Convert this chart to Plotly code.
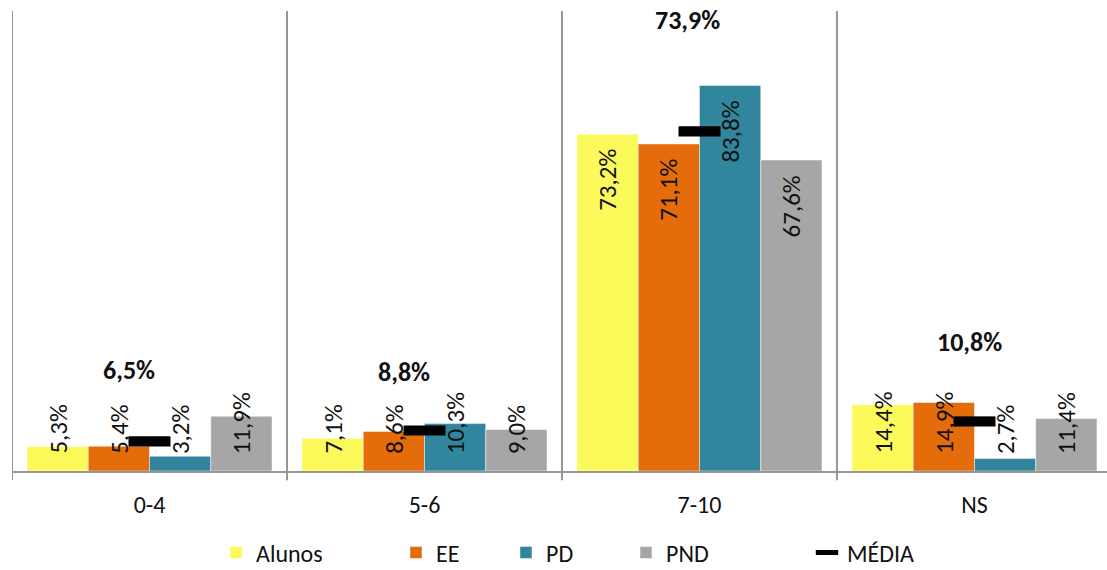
import plotly.graph_objects as go

categories = ["0-4", "5-6", "7-10", "NS"]
series_names = ["Alunos", "EE", "PD", "PND"]
alunos = [5.3, 7.1, 73.2, 14.4]
ee = [5.4, 8.6, 71.1, 14.9]
pd_vals = [3.2, 10.3, 83.8, 2.7]
pnd = [11.9, 9.0, 67.6, 11.4]
media = [6.5, 8.8, 73.9, 10.8]

colors = ["#FCF95B", "#E46C0A", "#31859C", "#A6A6A6"]
# pixel offsets of the bold MÉDIA labels relative to the marker
media_label_yshift = [71, 59, 111, 79]
media_label_xshift = [-20, -20, -12, -5]

FONT = "Calibri, Carlito, Lato, sans-serif"
BARGAP = 0.109

def fmt(v):
    return f"{v:.1f}".replace(".", ",") + "%"

fig = go.Figure()
all_series = [alunos, ee, pd_vals, pnd]
for i, (name, vals) in enumerate(zip(series_names, all_series)):
    fig.add_trace(go.Bar(
        x=categories, y=vals, name=name,
        marker=dict(color=colors[i], line=dict(color="rgba(255,255,255,0.6)", width=0.8)),
        legend="legend" if i == 0 else f"legend{i+1}",
        hoverinfo="skip",
    ))

fig.add_trace(go.Scatter(
    x=categories, y=media, name="MÉDIA", mode="markers",
    marker=dict(symbol="line-ew", size=29, line=dict(color="black", width=9)),
    legend="legend5", hoverinfo="skip",
))

annotations = []
bw = (1 - BARGAP) / 4
for i, vals in enumerate(all_series):
    for c, v in enumerate(vals):
        xpos = c - (1 - BARGAP) / 2 + (i + 0.5) * bw
        if v < 40:
            annotations.append(dict(x=xpos, y=0, xref="x", yref="y", text=fmt(v),
                                    textangle=-90, showarrow=False, yanchor="bottom",
                                    xanchor="center", yshift=15,
                                    font=dict(family=FONT, size=25, color="#111111")))
        else:
            annotations.append(dict(x=xpos, y=v, xref="x", yref="y", text=fmt(v),
                                    textangle=-90, showarrow=False, yanchor="top",
                                    xanchor="center", yshift=-13,
                                    font=dict(family=FONT, size=25, color="#111111")))

# MÉDIA markers drawn again on top of the value labels (as in the reference)
for c, v in enumerate(media):
    annotations.append(dict(x=c, y=v, xref="x", yref="y", text="\u00a0",
                            showarrow=False, xanchor="center", yanchor="middle",
                            width=41, height=9, bgcolor="black", borderpad=0,
                            font=dict(size=4, color="black")))

for c, v in enumerate(media):
    annotations.append(dict(x=c, y=v, xref="x", yref="y", text=f"<b>{fmt(v)}</b>",
                            showarrow=False, yanchor="middle", xanchor="center",
                            yshift=media_label_yshift[c], xshift=media_label_xshift[c],
                            font=dict(family=FONT, size=26, color="#111111")))

shapes = []
for xv in [-0.5, 0.5, 1.5, 2.5, 3.5]:
    shapes.append(dict(type="line", xref="x", yref="paper", x0=xv, x1=xv,
                       y0=-0.02, y1=1.0, line=dict(color="#959595", width=2)))

# legends positioned individually (pixel x of each legend's left edge)
legend_px = [230, 410, 520, 640, 821]
plot_left, plot_w = 12, 1095
common_leg = dict(orientation="h", yanchor="middle", y=-0.178, xanchor="left",
                  font=dict(family=FONT, size=24, color="#111111"),
                  bgcolor="rgba(0,0,0,0)", itemclick=False, itemdoubleclick=False)
legends = {}
for k, px in enumerate(legend_px):
    key = "legend" if k == 0 else f"legend{k+1}"
    legends[key] = dict(common_leg, x=(px - 14 - plot_left) / plot_w)

fig.update_layout(
    width=1107, height=570,
    margin=dict(l=12, r=0, t=11, b=99, autoexpand=False),
    paper_bgcolor="white", plot_bgcolor="white",
    barmode="group", bargap=BARGAP, bargroupgap=0,
    showlegend=True,
    xaxis=dict(type="category", range=[-0.5, 3.482], showline=True, linecolor="#959595",
               linewidth=2, ticks="", showgrid=False, zeroline=False,
               tickfont=dict(family=FONT, size=24, color="#111111"), ticklabelstandoff=11),
    yaxis=dict(range=[0, 100], visible=False, showgrid=False, zeroline=False),
    annotations=annotations,
    shapes=shapes,
    **legends,
)

fig.write_html("out.html", config={"displayModeBar": False},
               post_script="document.body.style.margin='0';document.body.style.overflow='hidden';")
